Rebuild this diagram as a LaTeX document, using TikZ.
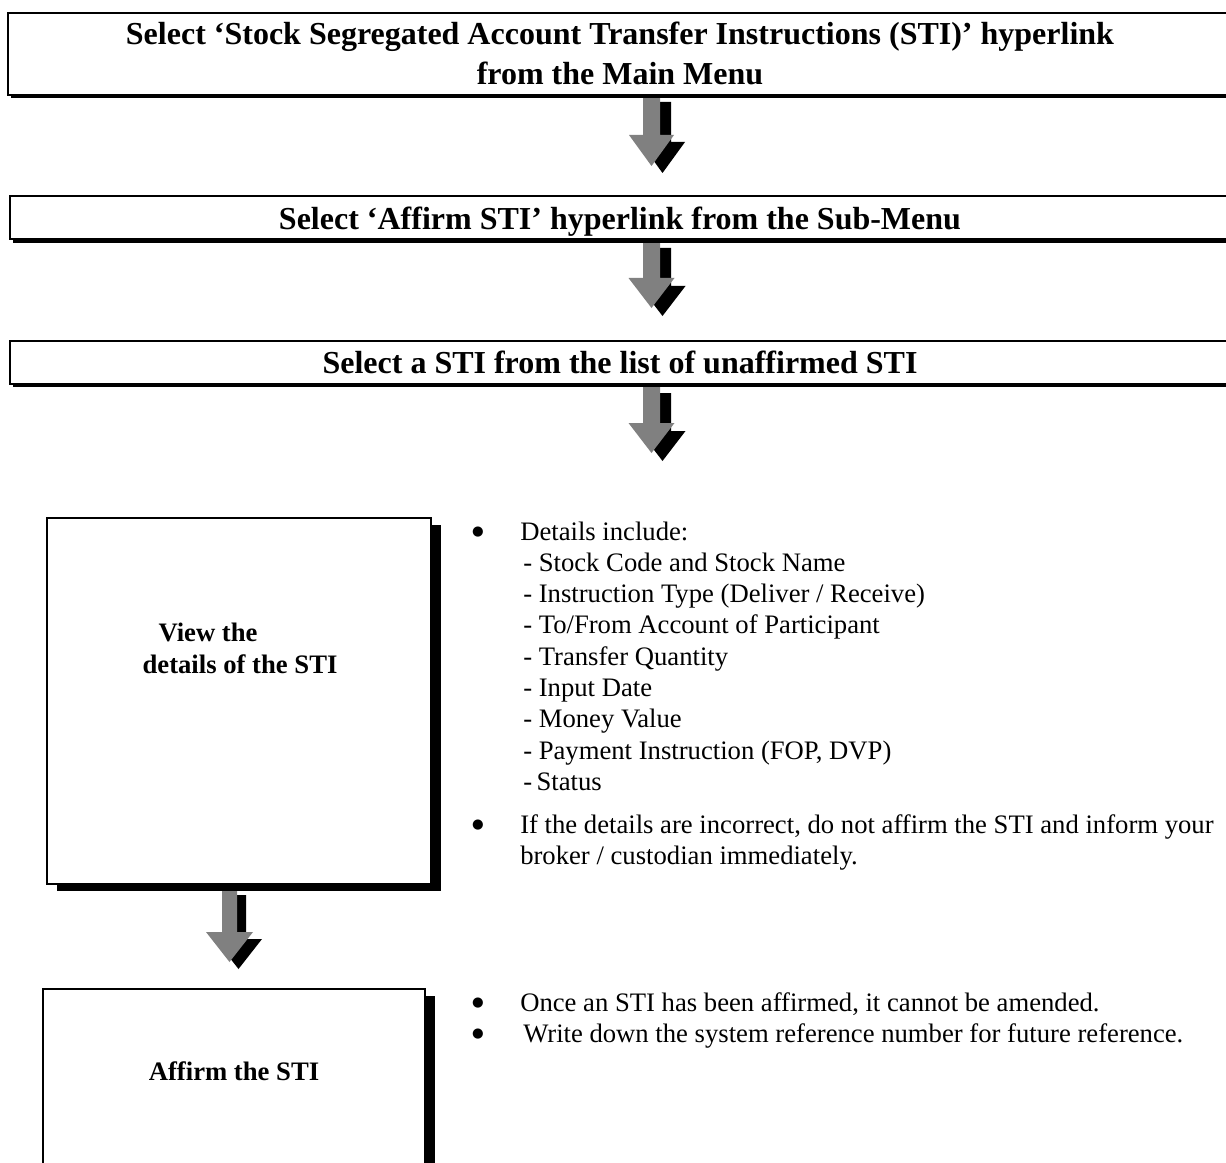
\documentclass[tikz,border=0pt]{standalone}
\usepackage{fontspec}
\setmainfont{Liberation Serif}
\newfontfamily\bulletfont{DejaVu Sans}
\usetikzlibrary{shadows,fit}
\definecolor{arrowgray}{RGB}{128,128,128}
\tikzset{
  boxtop/.style={draw=black, line width=1.5pt, fill=white, inner sep=0pt,
    drop shadow={shadow xshift=2.4pt, shadow yshift=-2.4pt, fill=black, opacity=1}},
  boxside/.style={draw=black, line width=1.2pt, fill=white, inner sep=0pt,
    drop shadow={shadow xshift=7.5pt, shadow yshift=-5pt, fill=black, opacity=1}},
  titletext/.style={font=\bfseries\fontsize{24}{28}\selectfont, inner sep=0pt, anchor=base},
  bodytext/.style={font=\fontsize{20}{24}\selectfont, inner sep=0pt, anchor=base west},
  bullettext/.style={font=\bulletfont\fontsize{10}{12}\selectfont, inner sep=0pt, anchor=center},
  pics/barrow/.style n args={6}{code={
    \fill[black, shift={(#5,#6)}] (-#1,0) -- (#1,0) -- (#1,#3) -- (#2,#3) -- (0,#4) -- (-#2,#3) -- (-#1,#3) -- cycle;
    \fill[arrowgray] (-#1,0) -- (#1,0) -- (#1,#3) -- (#2,#3) -- (0,#4) -- (-#2,#3) -- (-#1,#3) -- cycle;
  }}
}
\begin{document}
\begin{tikzpicture}[x=0.75pt, y=-0.75pt]
\useasboundingbox (0,0) rectangle (1226,1162);
% arrows
\coordinate (a1) at (651.5,95);
\coordinate (a2) at (651.5,240);
\coordinate (a3) at (651.5,385);
\coordinate (a4) at (229.5,888);
\pic at (a1) {barrow={8.5}{22.5}{40}{71}{11}{7}};
\pic at (a2) {barrow={8.5}{23}{38}{68}{11}{8}};
\pic at (a3) {barrow={8.5}{23}{38}{68}{11}{8}};
\pic at (a4) {barrow={7.5}{23.5}{44}{74}{9}{7}};
% boxes
\coordinate (b1nw) at (8,13.5);   \coordinate (b1se) at (1232,95);
\coordinate (b2nw) at (10,196);   \coordinate (b2se) at (1232,239.5);
\coordinate (b3nw) at (10,340.5); \coordinate (b3se) at (1232,384);
\coordinate (b4nw) at (47,518);   \coordinate (b4se) at (431,884);
\coordinate (b5nw) at (43,989);   \coordinate (b5se) at (425,1200);
\node[boxtop, fit=(b1nw)(b1se)] (b1) {};
\node[boxtop, fit=(b2nw)(b2se)] (b2) {};
\node[boxtop, fit=(b3nw)(b3se)] (b3) {};
\node[boxside, fit=(b4nw)(b4se)] (b4) {};
\node[boxside, fit=(b5nw)(b5se)] (b5) {};
% box texts
\node[titletext] (t1a) at (620,45) {Select ‘Stock Segregated Account Transfer Instructions (STI)’ hyperlink};
\node[titletext] (t1b) at (620,85) {from the Main Menu};
\node[titletext] (t2) at (620,230) {Select ‘Affirm STI’ hyperlink from the Sub-Menu};
\node[titletext] (t3) at (620,373) {Select a STI from the list of unaffirmed STI};
\node[titletext, font=\bfseries\fontsize{20}{24}\selectfont] (t4a) at (208,641) {View the};
\node[titletext, font=\bfseries\fontsize{20}{24}\selectfont] (t4b) at (240,673) {details of the STI};
\node[titletext, font=\bfseries\fontsize{20}{24}\selectfont] (t5) at (234,1080) {Affirm the STI};
% details
\node[bullettext] (u1) at (478,532) {●};
\node[bodytext] (d0) at (520,540) {Details include:};
\node[bodytext] (d1) at (523,571.3) {- Stock Code and Stock Name};
\node[bodytext] (d2) at (523,602.6) {- Instruction Type (Deliver / Receive)};
\node[bodytext] (d3) at (523,633.9) {- To/From Account of Participant};
\node[bodytext] (d4) at (523,665.2) {- Transfer Quantity};
\node[bodytext] (d5) at (523,696.5) {- Input Date};
\node[bodytext] (d6) at (523,727.8) {- Money Value};
\node[bodytext] (d7) at (523,759.1) {- Payment Instruction (FOP, DVP)};
\node[bodytext] (d8) at (523,790.4) {-\,Status};
\node[bullettext] (u2) at (478,825) {●};
\node[bodytext] (e1) at (520,833) {If the details are incorrect, do not affirm the STI and inform your};
\node[bodytext] (e2) at (520,864) {broker / custodian immediately.};
\node[bullettext] (u3) at (478,1003) {●};
\node[bodytext] (f1) at (520,1011) {Once an STI has been affirmed, it cannot be amended.};
\node[bullettext] (u4) at (478,1034) {●};
\node[bodytext] (f2) at (523,1042) {Write down the system reference number for future reference.};
\end{tikzpicture}
\end{document}
